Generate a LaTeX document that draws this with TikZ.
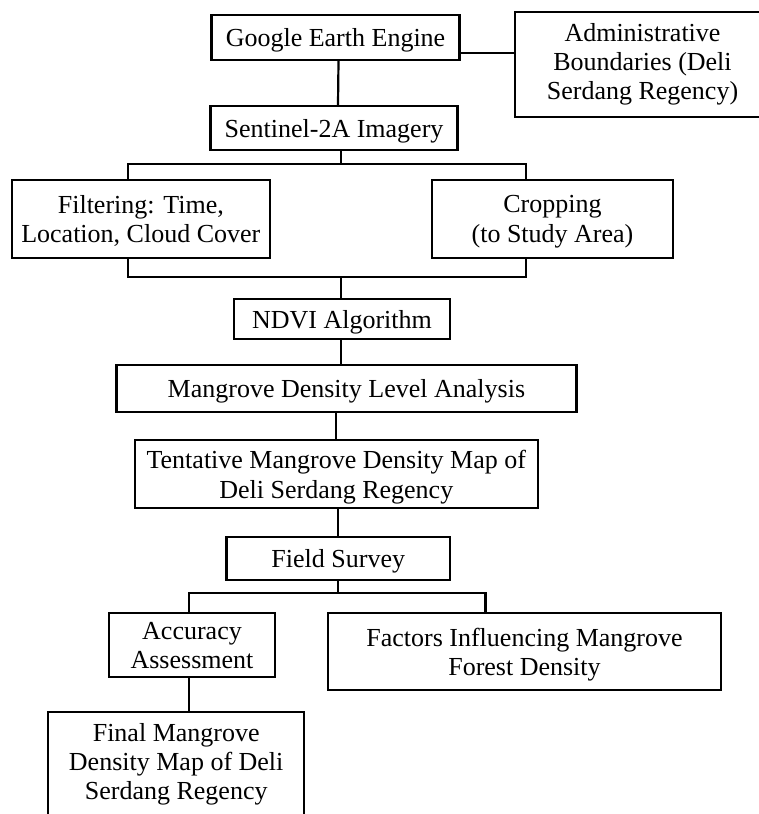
\documentclass[tikz,border=0pt]{standalone}
\usepackage{fontspec}
\setmainfont{Liberation Serif}
\begin{document}
\begin{tikzpicture}[x=1pt,y=-1pt,
  box/.style={draw,line width=2.2pt,inner sep=0pt,align=center,font=\fontsize{26}{29.3}\selectfont},
  flatbox/.style={box,text depth=0pt},
  conn/.style={line width=2.2pt}]
\useasboundingbox (0,0) rectangle (759,814);
\node[flatbox,minimum width=248pt,minimum height=45pt] (gee) at (335.5,37.5) {Google Earth Engine};
\node[box,minimum width=255pt,minimum height=105pt] (adm) at (642.5,64.2) {Administrative\\Boundaries (Deli\\Serdang Regency)};
\node[flatbox,minimum width=247pt,minimum height=44pt] (sen) at (334,128) {Sentinel-2A Imagery};
\node[flatbox,minimum width=257.6pt,minimum height=78pt] (filt) at (140.8,219) {Filtering: Time,\\Location, Cloud Cover};
\node[flatbox,minimum width=241pt,minimum height=78pt] (crop) at (552.5,219) {Cropping\\(to Study Area)};
\node[flatbox,minimum width=216pt,minimum height=40pt] (ndvi) at (342,319.3) {NDVI Algorithm};
\node[flatbox,minimum width=460pt,minimum height=46.7pt] (mdla) at (346.4,388.3) {Mangrove Density Level Analysis};
\node[flatbox,minimum width=403.4pt,minimum height=68.3pt] (tmdm) at (336.3,474.2) {Tentative Mangrove Density Map of\\Deli Serdang Regency};
\node[flatbox,minimum width=223.5pt,minimum height=43.3pt] (fs) at (338.3,558.3) {Field Survey};
\node[flatbox,minimum width=166pt,minimum height=64pt] (acc) at (192,645.3) {Accuracy\\Assessment};
\node[flatbox,minimum width=393pt,minimum height=76.7pt] (fac) at (524.5,651.7) {Factors Influencing Mangrove\\Forest Density};
\node[box,minimum width=255.7pt,minimum height=105pt] (fin) at (176.2,764.2) {Final Mangrove\\Density Map of Deli\\Serdang Regency};
% connectors
\coordinate (g1) at ([yshift=-15.5pt]gee.east);
\draw[conn] (g1) -- (g1 -| adm.west);
\draw[conn] ([xshift=3pt]gee.south) -- ([xshift=4pt]sen.north);
\coordinate (j1) at (341,164);
\coordinate (fl) at (128,164);
\coordinate (fr) at (526,164);
\draw[conn] (j1 |- sen.south) -- (j1);
\draw[conn] (fl |- filt.north) -- (fl) -- (fr) -- (fr |- crop.north);
\coordinate (j2) at (341,277.3);
\coordinate (bl) at (128,277.3);
\coordinate (br) at (526,277.3);
\draw[conn] (bl |- filt.south) -- (bl) -- (br) -- (br |- crop.south);
\draw[conn] (j2) -- (j2 |- ndvi.north);
\draw[conn] (j2 |- ndvi.south) -- (j2 |- mdla.north);
\draw[conn] (tmdm.north |- mdla.south) -- (tmdm.north);
\draw[conn] (fs.north |- tmdm.south) -- (fs.north);
\coordinate (j3) at (338,592.7);
\coordinate (al) at (188.8,592.7);
\coordinate (ar) at (485.5,592.7);
\draw[conn] (j3 |- fs.south) -- (j3);
\draw[conn] (al |- acc.north) -- (al) -- (ar) -- (ar |- fac.north);
\draw[conn] (al |- acc.south) -- (al |- fin.north);
\end{tikzpicture}
\end{document}
